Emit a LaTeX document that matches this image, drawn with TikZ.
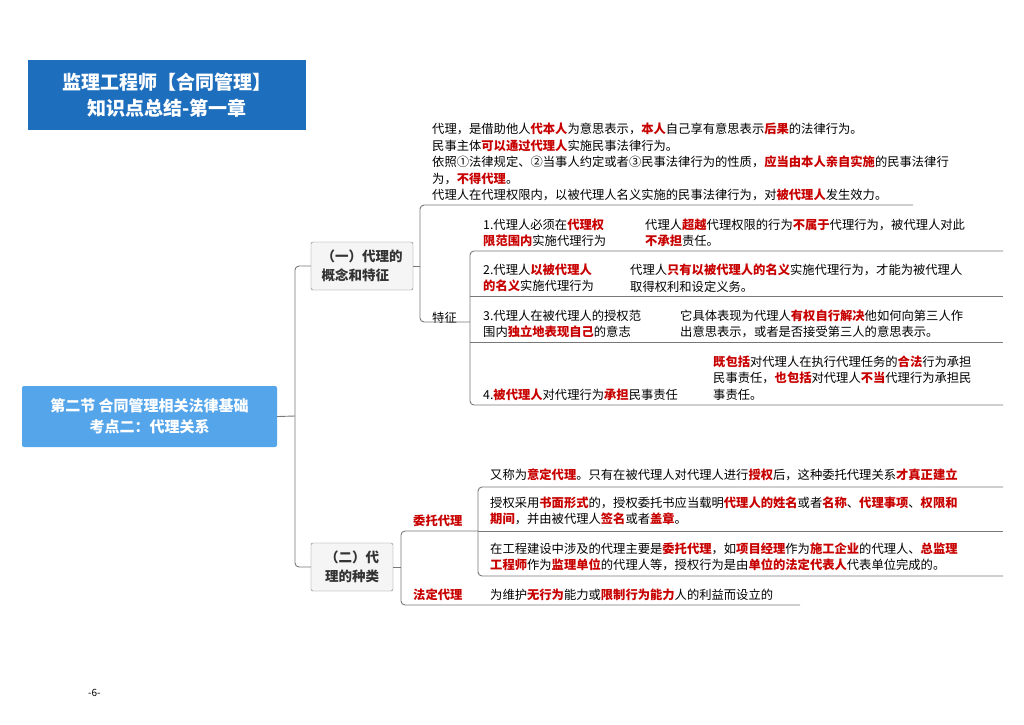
\documentclass[tikz,border=0pt]{standalone}
\usepackage{fontspec}
\setmainfont{Noto Sans CJK SC}
\definecolor{kred}{RGB}{200,0,0}
\definecolor{tblue}{RGB}{30,110,190}
\definecolor{mblue}{RGB}{85,165,235}
\definecolor{lgray}{RGB}{120,120,120}
\newcommand{\rr}[1]{\textcolor{kred}{\textbf{#1}}}
\begin{document}
\begin{tikzpicture}[x=1pt,y=-1pt,
  txt/.style={anchor=west,inner sep=0pt,align=left,font=\fontsize{12.3}{16.5}\selectfont},
  br/.style={draw=lgray,line width=0.9pt,rounded corners=4pt},
  sub/.style={draw=lgray,fill=black!4,rounded corners=2pt,font=\fontsize{13.5}{19}\selectfont\bfseries,text=black!80,align=left,inner sep=4pt}]
\useasboundingbox (0,0) rectangle (1024,724);
\fill[white] (0,0) rectangle (1024,724);
% title
\node[fill=tblue,minimum width=278pt,minimum height=70pt,text=white,font=\fontsize{19}{26}\selectfont\bfseries,align=center] (title) at (167,95) {监理工程师【合同管理】\\知识点总结-第一章};
\node[fill=mblue,rounded corners=2pt,minimum width=255pt,minimum height=61pt,text=white,font=\fontsize{15}{21}\selectfont\bfseries,align=center] (main) at (149.5,416.5) {第二节 合同管理相关法律基础\\考点二：代理关系};
\node[sub,minimum width=102pt,minimum height=48pt] (n1) at (362,266) {（一）代理的\\概念和特征};
\node[sub,minimum width=82pt,minimum height=48pt] (n2) at (352,567) {（二）代\\理的种类};
% trunk
\coordinate (t) at (295,416);
\draw[br] (main.east) -- (t);
\draw[br] (n1.west) -- (295,266) -- (295,567) -- (n2.west);
% group 1
\node[txt] (d) at (432,162) {代理，是借助他人\rr{代本人}为意思表示，\rr{本人}自己享有意思表示\rr{后果}的法律行为。\\
民事主体\rr{可以通过代理人}实施民事法律行为。\\
依照①法律规定、②当事人约定或者③民事法律行为的性质，\rr{应当由本人亲自实施}的民事法律行\\
为，\rr{不得代理}。\\
代理人在代理权限内，以被代理人名义实施的民事法律行为，对\rr{被代理人}发生效力。};
\node[txt] (tz) at (432,318) {特征};
\draw[br] (n1.east) -- (420,266);
\draw[br] (913,205) -- (420,205) -- (420,322) -- (470,322);
\draw[br] (1003,251) -- (470,251) -- (470,405) -- (1003,405);
\draw[br] (470,296) -- (1003,296);
\draw[br] (470,342) -- (1003,342);
\node[txt] (a1) at (483,233) {1.代理人必须在\rr{代理权}\\\rr{限范围内}实施代理行为};
\node[txt] (b1) at (645,233) {代理人\rr{超越}代理权限的行为\rr{不属于}代理行为，被代理人对此\\\rr{不承担}责任。};
\node[txt] (a2) at (483,278) {2.代理人\rr{以被代理人}\\\rr{的名义}实施代理行为};
\node[txt] (b2) at (630,278) {代理人\rr{只有以被代理人的名义}实施代理行为，才能为被代理人\\取得权利和设定义务。};
\node[txt] (a3) at (483,324) {3.代理人在被代理人的授权范\\围内\rr{独立地表现自己}的意志};
\node[txt] (b3) at (680,324) {它具体表现为代理人\rr{有权自行解决}他如何向第三人作\\出意思表示，或者是否接受第三人的意思表示。};
\node[txt] (a4) at (483,395) {4.\rr{被代理人}对代理行为\rr{承担}民事责任};
\node[txt] (b4) at (713,378) {\rr{既包括}对代理人在执行代理任务的\rr{合法}行为承担\\民事责任，\rr{也包括}对代理人\rr{不当}代理行为承担民\\事责任。};
% group 2
\draw[br] (n2.east) -- (401,567);
\draw[br] (478,531) -- (401,531) -- (401,605) -- (800,605);
\draw[br] (1003,487) -- (478,487) -- (478,576) -- (1003,576);
\draw[br] (478,531) -- (1003,531);
\node[txt] (wt) at (413,521) {\rr{委托代理}};
\node[txt] (fd) at (413,595) {\rr{法定代理}};
\node[txt] (c1) at (490,475) {又称为\rr{意定代理}。只有在被代理人对代理人进行\rr{授权}后，这种委托代理关系\rr{才真正建立}};
\node[txt] (c2) at (490,511) {授权采用\rr{书面形式}的，授权委托书应当载明\rr{代理人的姓名}或者\rr{名称}、\rr{代理事项}、\rr{权限和}\\\rr{期间}，并由被代理人\rr{签名}或者\rr{盖章}。};
\node[txt] (c3) at (490,557) {在工程建设中涉及的代理主要是\rr{委托代理}，如\rr{项目经理}作为\rr{施工企业}的代理人、\rr{总监理}\\\rr{工程师}作为\rr{监理单位}的代理人等，授权行为是由\rr{单位的法定代表人}代表单位完成的。};
\node[txt] (c4) at (490,595) {为维护\rr{无行为}能力或\rr{限制行为能力}人的利益而设立的};
\node[anchor=west,inner sep=0pt,font=\fontsize{10}{12}\selectfont] (pg) at (88,693) {-6-};
\end{tikzpicture}
\end{document}
